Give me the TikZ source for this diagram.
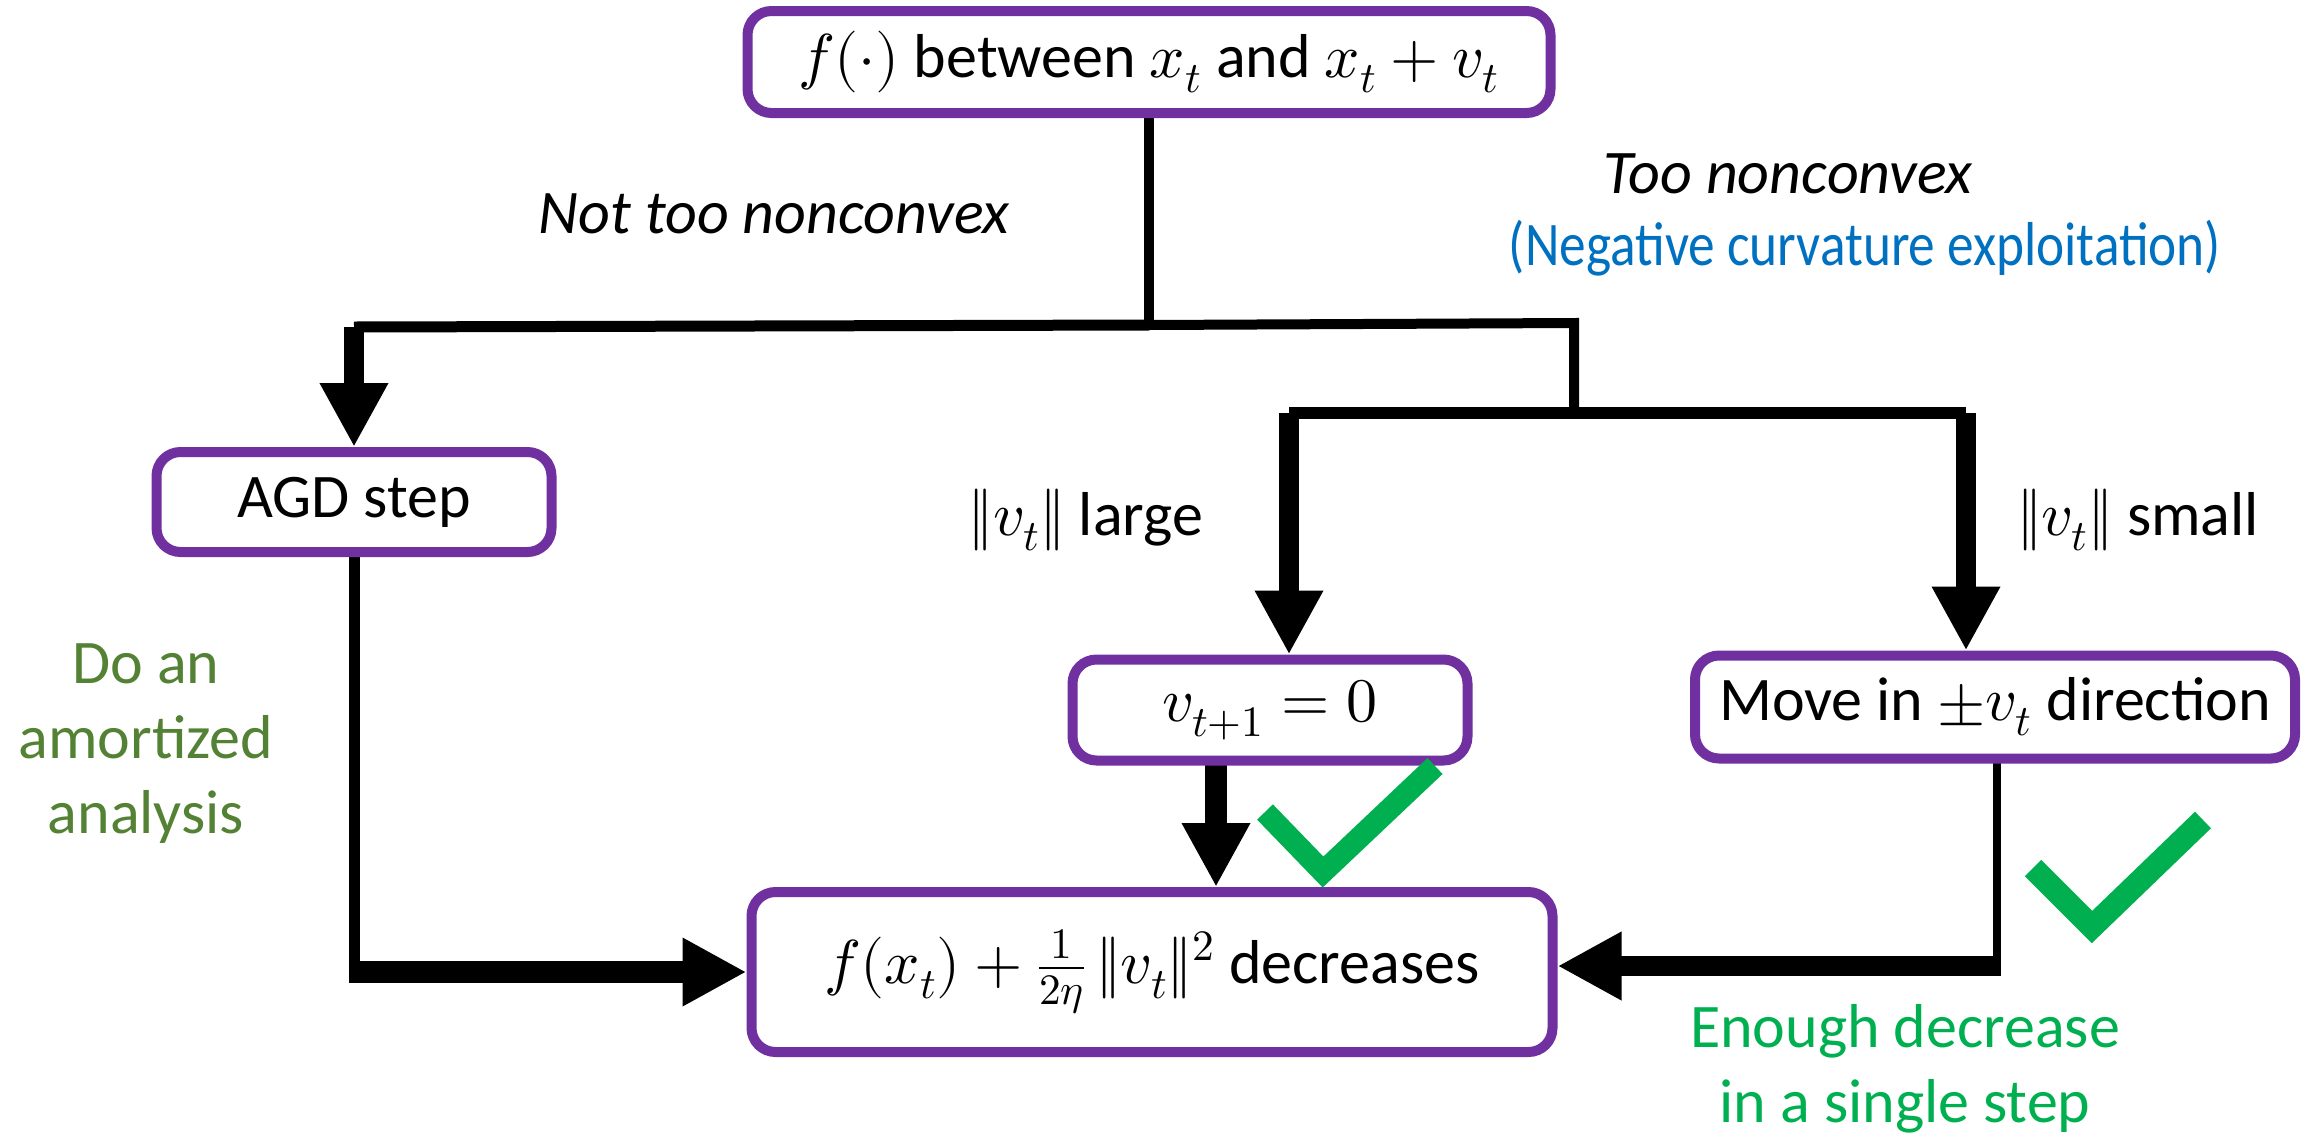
\documentclass[tikz,border=0pt]{standalone}
\usepackage{amsmath}
\usepackage{graphicx}
\usepackage{unicode-math}
\setmainfont{Carlito}
\setmathfont{Latin Modern Math}
\usetikzlibrary{arrows.meta}
\definecolor{boxpurple}{HTML}{7030A0}
\definecolor{curvblue}{HTML}{0070C0}
\definecolor{amortgreen}{HTML}{548235}
\definecolor{checkgreen}{HTML}{00B050}
\pgfdeclarelayer{background}
\pgfsetlayers{background,main}
\begin{document}
\begin{tikzpicture}[x=0.5pt,y=-0.5pt,
  txt/.style={font=\fontsize{31}{37.5}\selectfont},
  itxt/.style={font=\fontsize{31}{37.5}\selectfont\itshape},
  stepbox/.style={txt,draw=boxpurple,line width=5pt,rounded corners=12pt,fill=white,inner sep=0pt},
  bigtip/.style={-{Triangle[width=32pt,length=32pt]}},
  lbl/.style={anchor=base,inner sep=0pt},
  check/.style={draw=checkgreen,line width=11pt,miter limit=10}
]
\useasboundingbox (0,0) rectangle (2313,1136);

% boxes
\node[stepbox,minimum width=401.5pt,minimum height=51pt] (top) at (1149,62) {$f(\cdot)$ between $x_t$ and $x_t+v_t$};
\node[stepbox,minimum width=197.5pt,minimum height=50pt] (agd) at (354,502) {AGD step};
\node[stepbox,minimum width=197.5pt,minimum height=50.5pt] (vzero) at (1270,710) {$v_{t+1}=0$};
\node[stepbox,minimum width=300pt,minimum height=51.5pt] (move) at (1995,707) {Move in $\pm v_t$ direction};
\node[stepbox,minimum width=400.5pt,minimum height=80pt] (goal) at (1152,972) {$f(x_t)+\frac{1}{2\eta}\,\|v_t\|^2$ decreases};

% junctions
\coordinate (split) at (1149,325);
\coordinate (lcorner) at (354,327);
\coordinate (rcorner) at (1574,323);
\coordinate (rsplit) at (1574,413);
\coordinate (lbranch) at (1289,413);
\coordinate (rbranch) at (1966,413);
\coordinate (vdrop) at (1216,765);
\coordinate (agdturn) at (354,972);
\coordinate (mdrop) at (1997,763);
\coordinate (moveturn) at (1997,966);

\begin{pgfonlayer}{background}
\draw[line width=5pt] (top.south) -- (split);
\draw[line width=5.5pt] (split) -- (lcorner);
\draw[line width=5pt] (split) -- (rcorner) -- (rsplit);
\draw[line width=10pt,bigtip] (lcorner) -- (lcorner |- agd.north);
\draw[line width=6pt] (lbranch) -- (rbranch);
\draw[line width=10pt,bigtip] (lbranch) -- (lbranch |- vzero.north);
\draw[line width=10pt,bigtip] (rbranch) -- (rbranch |- move.north);
\draw[line width=11pt,bigtip] (vdrop) -- (vdrop |- goal.north);
\draw[line width=5.5pt] (agd.south) -- (agdturn);
\draw[line width=11pt,bigtip] ([xshift=-2.75pt]agdturn) -- (agdturn -| goal.west);
\draw[line width=4pt] (mdrop) -- (moveturn);
\draw[line width=10pt,bigtip] ([xshift=2pt]moveturn) -- (moveturn -| goal.east);
\end{pgfonlayer}

% labels
\node[lbl,itxt] (notnc) at (774,233) {Not too nonconvex};
\node[lbl,itxt] (toonc) at (1788,193) {Too nonconvex};
\node[lbl,txt,text=curvblue] (negcurv) at (1865,265) {\scalebox{0.86}[1]{(Negative curvature exploitation)}};
\node[lbl,txt] (large) at (1086,535) {$\|v_t\|$ large};
\node[lbl,txt] (small) at (2138,535) {$\|v_t\|$ small};
\node[txt,text=amortgreen,align=center,inner sep=0pt] (amort) at (146,744) {Do an\\amortized\\analysis};
\node[txt,text=checkgreen,align=center,inner sep=0pt] (enough) at (1905,1069) {Enough decrease\\in a single step};

% check marks
\draw[check] (1265,812) -- (1323,872) -- (1435,766);
\draw[check,line width=11.5pt] (2033,868) -- (2092,927) -- (2203,820);
\end{tikzpicture}
\end{document}
